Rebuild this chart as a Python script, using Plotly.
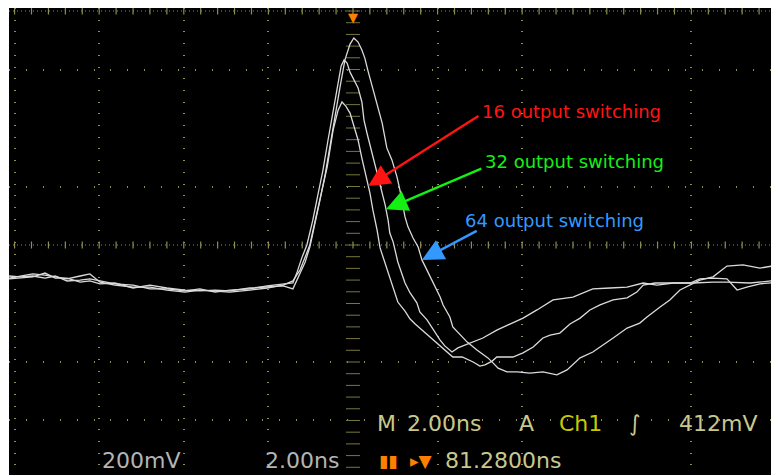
import numpy as np
import plotly.graph_objects as go

# ---------------- data ----------------
# time in ns relative to screen centre (2.00 ns/div), voltage in mV (200 mV/div)
T_16 = [-8.13, -7.87, -7.57, -7.28, -7.04, -6.76, -6.45, -6.22, -5.98, -5.63, -5.20, -4.80, -4.40, -3.97,
        -3.62, -3.26, -2.91, -2.44, -2.03, -1.65, -1.42,
        -1.25, -1.14, -1.02, -0.90, -0.78, -0.61, -0.47, -0.35, -0.26, -0.17, -0.07, 0.02, 0.12, 0.21,
        0.31, 0.40, 0.47, 0.57, 0.64, 0.73, 0.80, 0.90, 0.99, 1.06, 1.23, 1.35, 1.47, 1.58, 1.70, 1.82,
        1.99, 2.10, 2.25, 2.36, 2.58, 2.70, 2.84, 3.00, 3.12, 3.29, 3.40, 3.59, 3.78, 4.02, 4.26, 4.49,
        4.66, 4.89, 5.13, 5.37, 5.60, 5.84, 6.15, 6.48, 6.71, 6.86, 7.14, 7.49, 7.97, 8.20, 8.51, 8.84,
        9.08, 9.31, 9.62, 10.07]
V_16 = [-113, -106, -99, -103, -109, -116, -106, -99, -127, -137, -144, -144, -154, -161,
        -154, -157, -161, -154, -147, -137, -123,
        -85, -44, 0, 79, 154, 267, 393, 462, 489, 475, 451, 410, 359, 297,
        232, 178, 120, 51, -10, -51, -79, -120, -161, -195, -226, -253, -270, -284, -301, -315,
        -335, -349, -369, -383, -383, -390, -400, -414, -410, -397, -383, -383, -383, -369, -349, -318,
        -308, -301, -270, -250, -222, -205, -188, -181, -161, -137, -130, -130, -130, -116, -113, -116,
        -154, -144, -133, -127]

T_32 = [-8.13, -7.87, -7.57, -7.28, -7.04, -6.76, -6.45, -6.22, -5.98, -5.63, -5.20, -4.80, -4.40, -3.97,
        -3.62, -3.26, -2.91, -2.44, -2.03, -1.65, -1.42,
        -1.32, -1.21, -1.09, -0.95, -0.83, -0.71, -0.59, -0.47, -0.35, -0.28, -0.21, -0.14, -0.07, 0.02,
        0.12, 0.21, 0.26, 0.33, 0.45, 0.52, 0.64, 0.76, 0.83, 0.87, 0.95, 1.06, 1.23, 1.35, 1.51, 1.58,
        1.75, 1.87, 2.06, 2.17, 2.34, 2.48, 2.77, 3.07, 3.40, 3.78, 4.02, 4.35, 4.73, 5.20, 5.67, 6.08,
        6.48, 6.86, 7.19, 7.57, 8.04, 8.51, 8.84, 9.39, 10.07]
V_32 = [-106, -109, -106, -113, -106, -123, -120, -116, -123, -133, -137, -150, -150, -157,
        -150, -161, -154, -150, -140, -133, -130,
        -92, -44, 0, 85, 171, 256, 359, 462, 564, 612, 633, 622, 591, 564,
        537, 489, 427, 383, 315, 267, 205, 137, 85, 41, 10, -58, -130, -164, -198, -229,
        -256, -284, -325, -345, -366, -352, -335, -318, -291, -267, -250, -222, -188, -178, -150, -147,
        -144, -130, -137, -130, -130, -127, -127, -130, -120]

T_64 = [-8.13, -7.87, -7.57, -7.28, -7.04, -6.76, -6.45, -6.22, -5.98, -5.63, -5.20, -4.80, -4.40, -3.97,
        -3.62, -3.26, -2.91, -2.44, -2.03, -1.65, -1.42,
        -1.25, -1.13, -1.02, -0.90, -0.78, -0.66, -0.54, -0.43, -0.31, -0.19, -0.07, 0.02, 0.12, 0.21,
        0.28, 0.35, 0.47, 0.57, 0.69, 0.80, 0.92, 1.04, 1.11, 1.23, 1.30, 1.42, 1.54, 1.63, 1.77, 1.87,
        2.06, 2.13, 2.29, 2.36, 2.58, 2.70, 2.93, 3.19, 3.31, 3.43, 3.64, 3.88, 4.18, 4.49, 4.82, 5.06,
        5.37, 5.67, 6.15, 6.48, 6.78, 6.95, 7.26, 7.49, 7.73, 8.04, 8.20, 8.51, 8.84, 9.22, 9.62, 10.07]
V_64 = [-116, -113, -109, -96, -113, -113, -127, -123, -133, -130, -147, -137, -147, -154,
        -157, -154, -157, -147, -144, -140, -150,
        -99, -58, -7, 68, 154, 239, 342, 444, 537, 633, 687, 708, 694, 667,
        639, 598, 537, 479, 417, 332, 291, 233, 188, 96, 62, 24, -7, -51, -92, -127,
        -178, -205, -246, -280, -315, -332, -359, -386, -403, -421, -434, -434, -438, -434, -444, -427,
        -386, -366, -318, -284, -267, -246, -212, -188, -154, -130, -120, -109, -72, -68, -79, -68]

assert len(T_16) == len(V_16) and len(T_32) == len(V_32) and len(T_64) == len(V_64)

LABELS = ["16 output switching", "32 output switching", "64 output switching"]
LABEL_COLORS = ["#ff1414", "#14f014", "#3399ff"]
# label anchor (left edge), arrow tail, arrow tip time
LABEL_POS = [(3.00, 458), (3.07, 284), (2.60, 85)]
ARROW_TAIL = [(3.00, 444), (3.07, 263), (2.96, 51)]
ARROW_TIP_T = [0.36, 0.78, 1.63]

# oscilloscope status read-outs
ROW1 = [("M", "#c8c88c"), ("2.00ns", "#c8c88c"), ("A", "#c8c88c"), ("Ch1", "#c8c800"),
        ("\u222b", "#c8c88c"), ("412mV", "#c8c88c")]
ROW1_T = [0.52, 1.23, 3.88, 4.82, 6.48, 7.66]
ROW2 = [("200mV", "#b4b4b4"), ("2.00ns", "#b4b4b4"), ("\u25ae\u25ae", "#ff8000"),
        ("\u25b8\u25bc", "#ff8000"), ("81.2800ns", "#c8c88c")]
ROW2_T = [-5.98, -2.13, 0.57, 1.30, 2.13]

# graticule (2 ns/div, 200 mV/div)
X_GRID = [-8, -6, -4, -2, 2, 4, 8, 10]
Y_GRID = [600, 200, -400, -600]
X_RANGE = [-8.132, 10.071]
Y_RANGE = [-786.4, 810.3]

DOT = "#8f8f52"
DOT_DIM = "#77773f"
TRACE = "#dadada"

fig = go.Figure()

# graticule tick marks on centre lines / borders
minor_t = np.round(np.arange(-8.0, 10.01, 0.4), 2)
minor_v = np.arange(-760, 801, 40)
fig.add_trace(go.Scatter(x=minor_t, y=[0] * len(minor_t), mode="markers", hoverinfo="skip",
                         marker=dict(symbol="line-ns", size=5, line=dict(color=DOT, width=1.2))))
fig.add_trace(go.Scatter(x=minor_t, y=[800] * len(minor_t), mode="markers", hoverinfo="skip",
                         marker=dict(symbol="line-ns", size=5, line=dict(color=DOT, width=1.2))))
fig.add_trace(go.Scatter(x=[0] * len(minor_v), y=minor_v, mode="markers", hoverinfo="skip",
                         marker=dict(symbol="line-ew", size=10, line=dict(color=DOT_DIM, width=1))))
fig.add_trace(go.Scatter(x=[10] * len(minor_v), y=minor_v, mode="markers", hoverinfo="skip",
                         marker=dict(symbol="line-ew", size=5, line=dict(color=DOT, width=1.2))))

# the three waveforms
for t, v, name in [(T_16, V_16, LABELS[0]), (T_32, V_32, LABELS[1]), (T_64, V_64, LABELS[2])]:
    fig.add_trace(go.Scatter(x=t, y=v, mode="lines", name=name,
                             line=dict(color=TRACE, width=1.3), hoverinfo="skip"))

traces = [(T_16, V_16), (T_32, V_32), (T_64, V_64)]
for i in range(3):
    tt, vv = traces[i]
    tip_v = float(np.interp(ARROW_TIP_T[i], tt, vv))
    fig.add_annotation(x=ARROW_TIP_T[i], y=tip_v, ax=ARROW_TAIL[i][0], ay=ARROW_TAIL[i][1],
                       axref="x", ayref="y", xref="x", yref="y", text="", showarrow=True,
                       arrowhead=2, arrowsize=1.8, arrowwidth=2.4, arrowcolor=LABEL_COLORS[i])
    fig.add_annotation(x=LABEL_POS[i][0], y=LABEL_POS[i][1], xref="x", yref="y",
                       text=LABELS[i], showarrow=False, xanchor="left", yanchor="middle",
                       font=dict(family="DejaVu Sans", size=18, color=LABEL_COLORS[i]))

for (txt, col), t in zip(ROW1, ROW1_T):
    fig.add_annotation(x=t, y=-612, xref="x", yref="y", text=txt, showarrow=False,
                       xanchor="left", yanchor="middle",
                       font=dict(family="DejaVu Sans", size=22, color=col))
for (txt, col), t in zip(ROW2, ROW2_T):
    fig.add_annotation(x=t, y=-738, xref="x", yref="y", text=txt, showarrow=False,
                       xanchor="left", yanchor="middle",
                       font=dict(family="DejaVu Sans", size=22 if col != "#ff8000" else 17, color=col))

# trigger position marker at top centre
fig.add_annotation(x=0, y=1, xref="x", yref="paper", text="\u25bc", showarrow=False,
                   yanchor="top", font=dict(family="DejaVu Sans", size=13, color="#ff8000"))

# centre horizontal line and top border (densely dotted)
for yv in [0, 800]:
    fig.add_shape(type="line", xref="paper", yref="y", x0=0, x1=1, y0=yv, y1=yv,
                  line=dict(color=DOT, width=1.2, dash="1px,3px"), layer="below")

# the page body has an 8 px margin, so the figure is sized to end at the window edge
fig.update_layout(
    width=771, height=467,
    margin=dict(l=1, r=0, t=0, b=0),
    paper_bgcolor="white", plot_bgcolor="black",
    showlegend=False,
    xaxis=dict(range=X_RANGE, tickmode="array", tickvals=X_GRID, showticklabels=False,
               ticks="", showline=False, zeroline=False, showgrid=True,
               gridcolor=DOT, gridwidth=1.5, griddash="1px,10.7px", fixedrange=True),
    yaxis=dict(range=Y_RANGE, tickmode="array", tickvals=Y_GRID, showticklabels=False,
               ticks="", showline=False, zeroline=False, showgrid=True,
               gridcolor=DOT, gridwidth=1.5, griddash="1px,15.9px", fixedrange=True),
)

fig.write_html("out.html", config={"displayModeBar": False})
